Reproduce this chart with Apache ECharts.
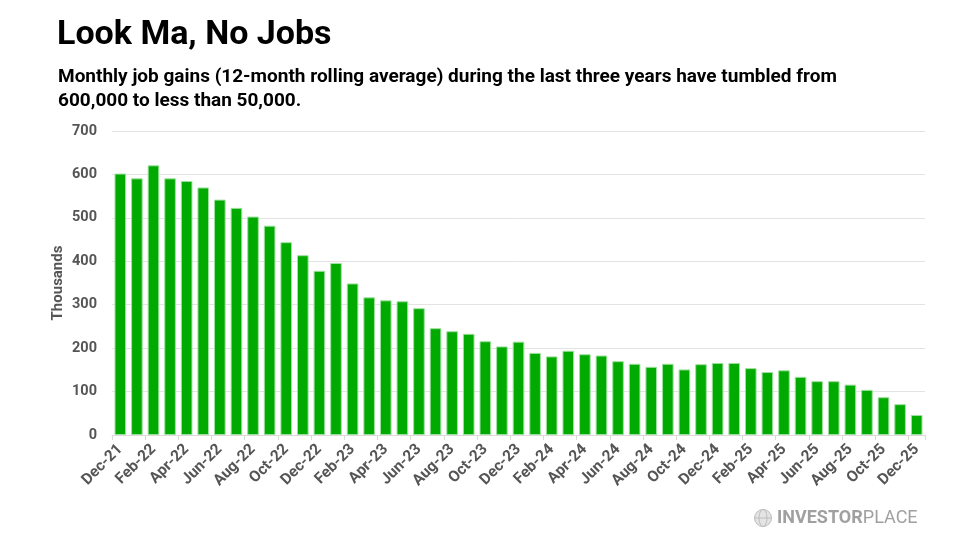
<!DOCTYPE html>
<html>
<head>
<meta charset="utf-8">
<script src="https://cdn.jsdelivr.net/npm/echarts@6/dist/echarts.min.js"></script>
<style>
html,body{margin:0;padding:0;background:#fff;}
#c{width:975px;height:548px;}
</style>
</head>
<body>
<div id="c"></div>
<script>
const months = ["Dec-21","Jan-22","Feb-22","Mar-22","Apr-22","May-22","Jun-22","Jul-22","Aug-22","Sep-22","Oct-22","Nov-22",
"Dec-22","Jan-23","Feb-23","Mar-23","Apr-23","May-23","Jun-23","Jul-23","Aug-23","Sep-23","Oct-23","Nov-23",
"Dec-23","Jan-24","Feb-24","Mar-24","Apr-24","May-24","Jun-24","Jul-24","Aug-24","Sep-24","Oct-24","Nov-24",
"Dec-24","Jan-25","Feb-25","Mar-25","Apr-25","May-25","Jun-25","Jul-25","Aug-25","Sep-25","Oct-25","Nov-25","Dec-25"];
const jobGains = [602,591,621,591,585,570,542,523,503,482,444,414,
378,396,349,317,310,308,292,246,239,233,216,204,
215,189,181,194,186,183,170,164,157,164,151,163,
166,166,154,145,149,134,124,124,116,104,87,71,46];
const yTicks = [0,100,200,300,400,500,600,700];

const chart = echarts.init(document.getElementById('c'));
chart.setOption({
  animation:false,
  backgroundColor:'#fff',
  title:[{
    text:'Look Ma, No Jobs',
    left:52, top:13,
    textStyle:{fontFamily:'Roboto',fontWeight:'bold',fontSize:34,color:'#000'}
  },{
    text:'Monthly job gains (12-month rolling average) during the last three years have tumbled from\n600,000 to less than 50,000.',
    left:53, top:60,
    textStyle:{fontFamily:'Roboto',fontWeight:'bold',fontSize:19,color:'#000',lineHeight:24}
  }],
  grid:{left:112,right:50,top:131,bottom:113},
  xAxis:{
    type:'category',
    data:months,
    axisLine:{lineStyle:{color:'#d9d9d9'}},
    axisTick:{show:true,interval:1,lineStyle:{color:'#d9d9d9'},length:5},
    axisLabel:{interval:1,rotate:45,fontFamily:'Roboto',fontWeight:'bold',fontSize:15.5,color:'#555',margin:12}
  },
  yAxis:{
    type:'value',
    min:yTicks[0], max:yTicks[yTicks.length-1], interval:100,
    name:'Thousands',
    nameLocation:'middle',
    nameGap:46,
    nameMoveOverlap:false,
    nameTextStyle:{fontFamily:'Roboto',fontWeight:'bold',fontSize:15,color:'#555'},
    axisLine:{show:false},
    axisTick:{show:false},
    splitLine:{lineStyle:{color:'#e3e3e3',width:1}},
    axisLabel:{fontFamily:'Roboto',fontWeight:'bold',fontSize:14.5,color:'#555',margin:15}
  },
  series:[{
    type:'bar',
    data:jobGains,
    barCategoryGap:'30%',
    itemStyle:{color:'#00AA00',borderColor:'#9fe09f',borderWidth:1}
  }],
  graphic:[{
    type:'group',
    left:752, top:507,
    children:[{
      type:'circle',
      shape:{cx:9,cy:10,r:8.5},
      style:{fill:'#e4e4e4',stroke:'#bdbdbd',lineWidth:1}
    },{
      type:'ellipse',
      shape:{cx:9,cy:10,rx:4,ry:8.5},
      style:{fill:'none',stroke:'#bdbdbd',lineWidth:1}
    },{
      type:'line',
      shape:{x1:0.5,y1:10,x2:17.5,y2:10},
      style:{stroke:'#bdbdbd',lineWidth:1}
    },{
      type:'text',
      left:23, top:1,
      style:{
        text:'{a|INVESTOR}{b|PLACE}',
        rich:{
          a:{fontFamily:'Roboto',fontWeight:'bold',fontSize:18,fill:'#a0a0a0'},
          b:{fontFamily:'Roboto',fontWeight:'normal',fontSize:18,fill:'#a0a0a0'}
        }
      }
    }]
  }]
});
</script>
</body>
</html>
